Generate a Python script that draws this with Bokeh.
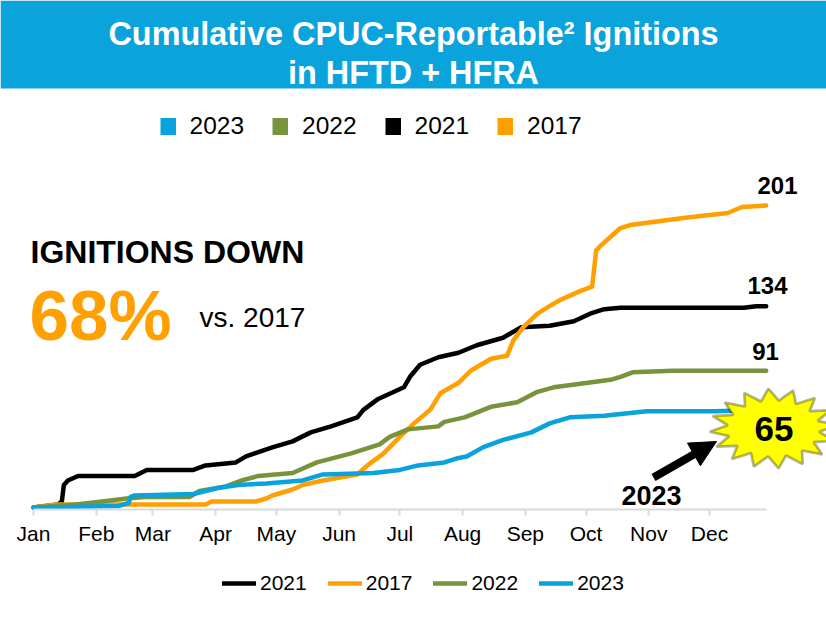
import numpy as np
from bokeh.plotting import figure
from bokeh.models import (Range1d, FixedTicker, Legend, LegendItem, Label,
                          BoxAnnotation, PolyAnnotation, Arrow, NormalHead)
from bokeh.embed import file_html
from bokeh.resources import INLINE

# ---------------- data (day of year, cumulative ignitions) ----------------
month_start_days = [0, 31, 59, 90, 120, 151, 181, 212, 243, 273, 304, 334]
month_labels = ["Jan", "Feb", "Mar", "Apr", "May", "Jun",
                "Jul", "Aug", "Sep", "Oct", "Nov", "Dec"]

days_2021 = [0, 12, 14, 15, 17, 22, 50, 53, 56, 79, 85, 100, 105, 118, 128,
             137, 147, 160, 163, 170, 183, 186, 191, 200, 210, 219, 232, 241,
             255, 267, 275, 282, 290, 351, 357, 362]
vals_2021 = [0, 2, 4, 15, 18, 21, 21, 23, 25, 25, 28, 30, 34, 40, 44,
             50, 54, 60, 65, 72, 80, 87, 95, 100, 103, 108, 113, 120,
             121, 124, 129, 132, 133, 133, 134, 134]

days_2017 = [0, 11, 85, 88, 110, 115, 118, 128, 133, 143, 160, 165, 173, 181,
             188, 196, 201, 210, 216, 226, 234, 237, 242, 249, 255, 260, 270,
             276, 278, 280, 285, 290, 295, 306, 323, 343, 350, 362]
vals_2017 = [0, 2, 2, 4, 4, 6, 8, 12, 15, 18, 22, 28, 36, 47,
             56, 65, 76, 83, 91, 99, 101, 111, 120, 129, 134, 138, 144,
             147, 171, 174, 180, 186, 188, 190, 193, 196, 200, 201]

days_2022 = [0, 21, 34, 46, 55, 77, 82, 95, 103, 111, 128, 140, 157, 171, 176,
             185, 200, 203, 213, 226, 239, 249, 257, 274, 285, 290, 296, 316, 362]
vals_2022 = [0, 2, 4, 6, 7, 7, 11, 14, 18, 21, 23, 30, 36, 42, 47,
             52, 54, 57, 60, 67, 70, 77, 80, 83, 85, 87, 90, 91, 91]

days_2023 = [0, 42, 47, 48, 50, 79, 82, 91, 101, 115, 133, 143, 168, 181, 190,
             203, 210, 214, 222, 232, 246, 255, 265, 282, 303, 336, 362]
vals_2023 = [0, 1, 3, 7, 8, 9, 10, 13, 15, 16, 18, 22, 23, 25, 28,
             30, 33, 34, 40, 45, 50, 56, 60, 61, 64, 64, 65]

axis_end_day = 362

# ---------------- styling ----------------
BLUE = "#08A3DD"
GREEN = "#77933C"
BLACK = "#000000"
ORANGE = "#FFA000"
BAND = "#0AA3DC"
FONT = "Liberation Sans"

W, H = 826, 616

# pixel geometry (page coordinates)
PX_PER_DAY = 2.024
DAY0_X = 33.0
PX_PER_UNIT = 1.5025
ZERO_Y = 507.0


def dx(rx):
    return (rx - DAY0_X) / PX_PER_DAY


def dy(ry):
    return (ZERO_Y - ry) / PX_PER_UNIT


p = figure(width=W, height=H, output_backend="svg", toolbar_location=None,
           x_range=Range1d(dx(0), dx(W)), y_range=Range1d(dy(H), dy(0)),
           y_axis_location=None, min_border=0,
           min_border_left=0, min_border_right=0, min_border_top=0,
           min_border_bottom=0)
p.outline_line_color = None
p.grid.visible = False
p.background_fill_color = "white"
p.border_fill_color = "white"

# header band + title
p.add_layout(BoxAnnotation(bottom=dy(88), fill_color=BAND, fill_alpha=1.0,
                           line_color=None))
title_kw = dict(text_align="center", text_baseline="middle", text_color="white",
                text_font=FONT, text_font_style="bold", text_font_size="32.4px")
p.add_layout(Label(x=dx(413), y=dy(33), text="Cumulative CPUC-Reportable\u00b2 Ignitions", **title_kw))
p.add_layout(Label(x=dx(413), y=dy(72), text="in HFTD + HFRA", **title_kw))

# x axis, drawn at the baseline inside the frame
ax = p.xaxis[0]
ax.fixed_location = dy(508.5)
ax.ticker = FixedTicker(ticks=month_start_days)
ax.major_label_overrides = {d: m for d, m in zip(month_start_days, month_labels)}
ax.bounds = (0, axis_end_day)
ax.minor_tick_line_color = None
ax.major_tick_in = 0
ax.major_tick_out = 6
ax.axis_line_color = "#D9D9D9"
ax.axis_line_width = 2
ax.major_tick_line_color = "#D9D9D9"
ax.major_tick_line_width = 2
ax.major_label_text_font = FONT
ax.major_label_text_font_size = "21px"
ax.major_label_text_color = "#000000"
ax.major_label_standoff = 7

# series
line_kw = dict(line_width=4.5, line_cap="round", line_join="round")
r21 = p.line(days_2021, vals_2021, line_color=BLACK, **line_kw)
r17 = p.line(days_2017, vals_2017, line_color=ORANGE, **line_kw)
r22 = p.line(days_2022, vals_2022, line_color=GREEN, **line_kw)
r23 = p.line(days_2023, vals_2023, line_color=BLUE, **line_kw)

# swatches for the top legend: a thick, short butt-capped line reads as a
# filled square in the legend (NaN geometry: legend only)
nan = float("nan")
sq = {}
for yr, c in [("2023", BLUE), ("2022", GREEN), ("2021", BLACK), ("2017", ORANGE)]:
    sq[yr] = p.line(x=[nan], y=[nan], line_color=c, line_width=17, line_cap="butt")

top_legend = Legend(items=[LegendItem(label=yr, renderers=[sq[yr]])
                           for yr in ["2023", "2022", "2021", "2017"]],
                    orientation="horizontal", location=(159.5, 476),
                    glyph_width=16, glyph_height=20, label_standoff=14, spacing=28,
                    padding=0, margin=0, border_line_color=None,
                    background_fill_alpha=0,
                    label_text_font=FONT, label_text_font_size="24.5px",
                    label_text_color="#000000")
p.add_layout(top_legend)

bottom_legend = Legend(items=[LegendItem(label="2021", renderers=[r21]),
                              LegendItem(label="2017", renderers=[r17]),
                              LegendItem(label="2022", renderers=[r22]),
                              LegendItem(label="2023", renderers=[r23])],
                       orientation="horizontal", location=(222, 21),
                       glyph_width=34, glyph_height=16, label_standoff=4, spacing=21,
                       padding=0, margin=0, border_line_color=None,
                       background_fill_alpha=0,
                       label_text_font=FONT, label_text_font_size="21px",
                       label_text_color="#000000")
p.add_layout(bottom_legend)

# big callout texts
p.add_layout(Label(x=dx(30), y=dy(251.5), text="IGNITIONS DOWN", text_align="left",
                   text_baseline="middle", text_font=FONT, text_font_style="bold",
                   text_font_size="32px", text_color="#000000"))
p.add_layout(Label(x=dx(29), y=dy(315), text="68%", text_align="left",
                   text_baseline="middle", text_font=FONT, text_font_style="bold",
                   text_font_size="71px", text_color=ORANGE))
p.add_layout(Label(x=dx(199), y=dy(317), text="vs. 2017", text_align="left",
                   text_baseline="middle", text_font=FONT,
                   text_font_size="28px", text_color="#000000"))

# end-value labels
for txt, rx, ry in [(str(vals_2017[-1]), 777, 184.5),
                    (str(vals_2021[-1]), 767, 284.5),
                    (str(vals_2022[-1]), 765, 350.5)]:
    p.add_layout(Label(x=dx(rx), y=dy(ry), text=txt, text_align="center",
                       text_baseline="middle", text_font=FONT,
                       text_font_style="bold", text_font_size="24px",
                       text_color="#000000"))

# starburst callout for 2023
cx, cy = 773.0, 428.0
n_spikes = 16
ang = np.pi / 2 + 0.08 + np.arange(2 * n_spikes) * np.pi / n_spikes
rx_ = np.where(np.arange(2 * n_spikes) % 2 == 0, 64.0, 46.0)
ry_ = np.where(np.arange(2 * n_spikes) % 2 == 0, 40.0, 28.0)
star_x = [float(dx(cx + a * np.cos(t))) for a, t in zip(rx_, ang)]
star_y = [float(dy(cy - b * np.sin(t))) for b, t in zip(ry_, ang)]
p.add_layout(PolyAnnotation(xs=star_x, ys=star_y, fill_color="#FFFF00", fill_alpha=1.0,
                            line_color="#000000", line_width=2.7))
p.add_layout(Label(x=dx(773.5), y=dy(428), text=str(vals_2023[-1]), text_align="center",
                   text_baseline="middle", text_font=FONT, text_font_style="bold",
                   text_font_size="35px", text_color="#000000"))

p.add_layout(Arrow(end=NormalHead(size=26, fill_color="#000000", line_color="#000000"),
                   x_start=dx(653), y_start=dy(477), x_end=dx(716), y_end=dy(441),
                   line_width=8, line_color="#000000"))
p.add_layout(Label(x=dx(651), y=dy(495), text="2023", text_align="center",
                   text_baseline="middle", text_font=FONT, text_font_style="bold",
                   text_font_size="27px", text_color="#000000"))

open("out.html", "w").write(file_html(p, INLINE))
